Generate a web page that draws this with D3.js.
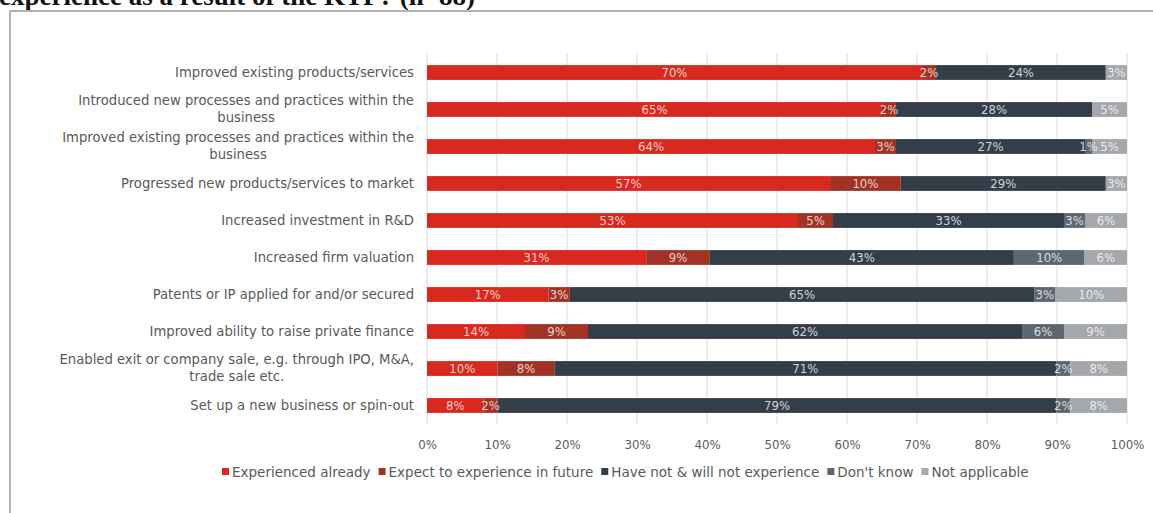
<!DOCTYPE html>
<html>
<head>
<meta charset="utf-8">
<script src="https://cdn.jsdelivr.net/npm/d3@7"></script>
<style>
  html, body { margin: 0; padding: 0; background: #fff; }
  svg { display: block; }
  .cat { font-family: "DejaVu Sans", sans-serif; font-size: 13.2px; fill: #595959; }
  .tick text { font-family: "DejaVu Sans", sans-serif; font-size: 11.8px; fill: #595959; }
  .val { font-family: "DejaVu Sans Condensed", "Liberation Sans Narrow", sans-serif; font-stretch: condensed; font-size: 13px; fill: #ffffff; fill-opacity: 0.78; }
  .leg { font-family: "DejaVu Sans", sans-serif; font-size: 13.5px; fill: #595959; }
  .title { font-family: "Liberation Serif", "DejaVu Serif", serif; font-weight: bold; font-size: 27px; fill: #111; }
</style>
</head>
<body>
<script>
// Share of respondents reporting each outcome (n=88)
const categories = [
  "Improved existing products/services",
  "Introduced new processes and practices within the\nbusiness",
  "Improved existing processes and practices within the\nbusiness",
  "Progressed new products/services to market",
  "Increased investment in R&D",
  "Increased firm valuation",
  "Patents or IP applied for and/or secured",
  "Improved ability to raise private finance",
  "Enabled exit or company sale, e.g. through IPO, M&A,\ntrade sale etc.",
  "Set up a new business or spin-out"
];
const seriesNames = [
  "Experienced already",
  "Expect to experience in future",
  "Have not & will not experience",
  "Don't know",
  "Not applicable"
];
const experiencedAlready = [70, 65, 64, 57, 53, 31, 17, 14, 10, 8];
const expectInFuture     = [2, 2, 3, 10, 5, 9, 3, 9, 8, 2];
const haveNotWillNot     = [24, 28, 27, 29, 33, 43, 65, 62, 71, 79];
const dontKnow           = [0, 0, 1, 0, 3, 10, 3, 6, 2, 2];
const notApplicable      = [3, 5, 5, 3, 6, 6, 10, 9, 8, 8];
const xTicks = [0, 0.1, 0.2, 0.3, 0.4, 0.5, 0.6, 0.7, 0.8, 0.9, 1];
const colors = ["#d9291e", "#a23226", "#333e48", "#5d6770", "#a4a8ad"];

const W = 1153, H = 513;
const svg = d3.select("body").append("svg").attr("width", W).attr("height", H);

// Heading above the frame (partially out of view at the top)
svg.append("text").attr("class", "title").attr("x", -1).attr("y", 5)
  .text("experience as a result of the KTP? (n=88)");

// Frame
svg.append("path")
  .attr("d", `M10,${H + 2} L10,11 L${W + 2},11`)
  .attr("fill", "none").attr("stroke", "#b2b2b2").attr("stroke-width", 2);

const rows = categories.map((c, i) => ({
  cat: c,
  [seriesNames[0]]: experiencedAlready[i],
  [seriesNames[1]]: expectInFuture[i],
  [seriesNames[2]]: haveNotWillNot[i],
  [seriesNames[3]]: dontKnow[i],
  [seriesNames[4]]: notApplicable[i]
}));

const stacked = d3.stack().keys(seriesNames).offset(d3.stackOffsetExpand)(rows);

const x = d3.scaleLinear().domain([0, 1]).range([427, 1127]);
const y = d3.scaleBand().domain(categories).range([54, 424]).paddingInner(0.6).paddingOuter(0.3);

// Vertical gridlines
svg.append("g").selectAll("line").data(xTicks).join("line")
  .attr("x1", d => x(d)).attr("x2", d => x(d))
  .attr("y1", 54).attr("y2", 424)
  .attr("stroke", "#d9d9d9").attr("stroke-width", 1);

// Bars
const groups = svg.append("g").selectAll("g").data(stacked).join("g")
  .attr("fill", (d, i) => colors[i]);
groups.selectAll("rect").data(d => d.map(p => ({ p, key: d.key }))).join("rect")
  .attr("x", d => x(d.p[0]))
  .attr("y", d => y(d.p.data.cat))
  .attr("width", d => x(d.p[1]) - x(d.p[0]))
  .attr("height", y.bandwidth());

// Segment value labels
svg.append("g").selectAll("g").data(stacked).join("g")
  .selectAll("text").data(d => d.map(p => ({ p, key: d.key })).filter(d => d.p.data[d.key] > 0)).join("text")
  .attr("class", "val")
  .attr("x", d => (x(d.p[0]) + x(d.p[1])) / 2)
  .attr("y", d => y(d.p.data.cat) + y.bandwidth() / 2)
  .attr("dy", "0.36em")
  .attr("text-anchor", "middle")
  .text(d => d.p.data[d.key] + "%");

// Category labels (right aligned, may span two lines)
const catG = svg.append("g").selectAll("text").data(categories).join("text")
  .attr("class", "cat")
  .attr("text-anchor", "end")
  .attr("x", 414)
  .attr("y", d => y(d) + y.bandwidth() / 2);
catG.each(function (d) {
  const lines = d.split("\n");
  const t = d3.select(this);
  const lh = 16.5;
  lines.forEach((ln, k) => {
    t.append("tspan")
      .attr("x", k === 0 ? 414 : null)
      .attr("dy", k === 0 ? "0.35em" : lh + "px")
      .attr("text-anchor", k === 0 ? "end" : "middle")
      .text(ln);
  });
  if (lines.length > 1) {
    t.select("tspan").attr("dy", null).attr("y", y(d) + y.bandwidth() / 2 - lh / 2 + 4);
    // centre the continuation line under the first line
    const w = this.querySelector("tspan").getComputedTextLength();
    t.selectAll("tspan").filter((_, k) => k > 0).attr("x", 414 - w / 2);
  }
});

// X axis
const xAxis = d3.axisBottom(x).tickValues(xTicks).tickFormat(d3.format(".0%")).tickSize(0).tickPadding(11);
svg.append("g").attr("transform", "translate(0,430)").call(xAxis)
  .call(g => g.select(".domain").remove());

// Legend
const leg = svg.append("g").attr("transform", "translate(222,472)");
let lx = 0;
seriesNames.forEach((n, i) => {
  const g = leg.append("g").attr("transform", `translate(${lx},0)`);
  g.append("rect").attr("x", 0).attr("y", -4).attr("width", 7).attr("height", 7).attr("fill", colors[i]);
  const t = g.append("text").attr("class", "leg").attr("x", 10).attr("y", 0).attr("dy", "0.35em").text(n);
  lx += 10 + t.node().getComputedTextLength() + 8;
});
</script>
</body>
</html>
